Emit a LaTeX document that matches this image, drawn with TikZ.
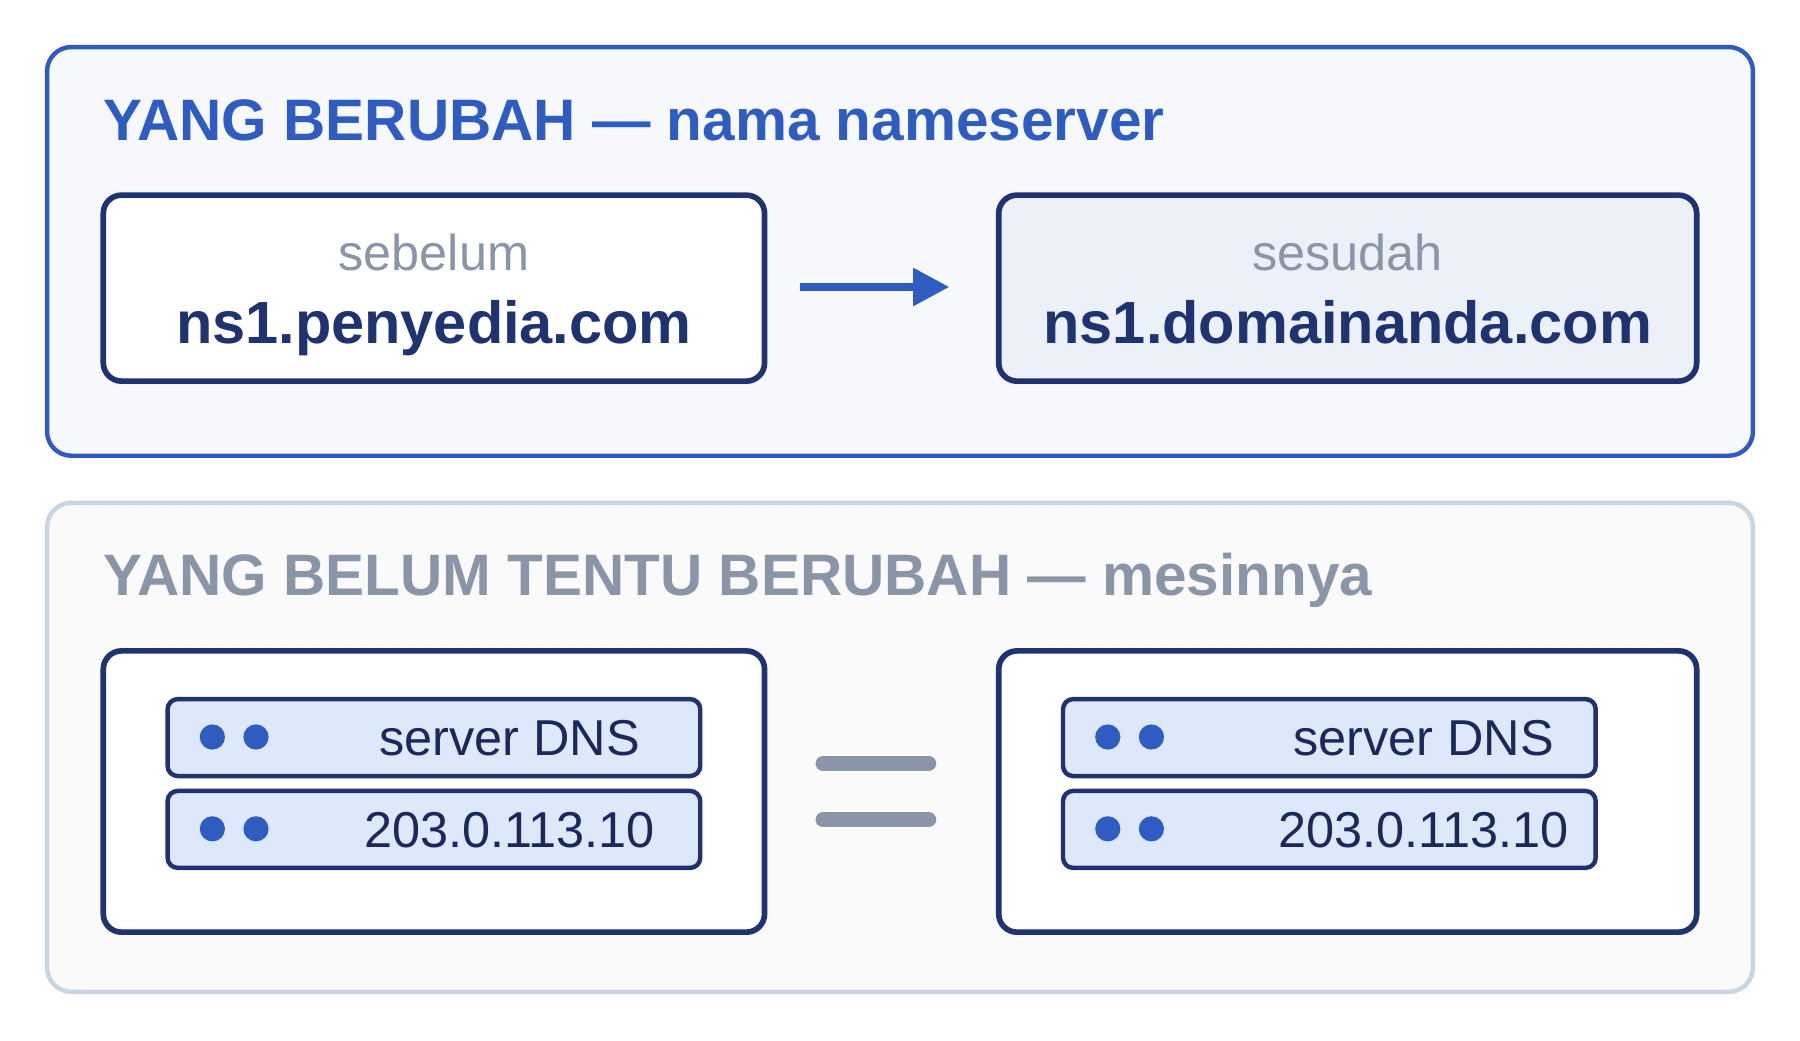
\documentclass[tikz,border=0pt]{standalone}
\usepackage{fontspec}
\setmainfont{Liberation Sans}
\usetikzlibrary{arrows.meta}
\definecolor{blu}{HTML}{2F5CC0}
\definecolor{navy}{HTML}{1E3370}
\definecolor{gry}{HTML}{8A96A8}
\definecolor{lgry}{HTML}{C9D5E3}
\definecolor{rowf}{HTML}{DDE8FB}
\begin{document}
\begin{tikzpicture}[x=0.02cm,y=-0.02cm,
 panel/.style={rounded corners=12pt,line width=2.2pt},
 card/.style={draw=navy,line width=2.8pt,rounded corners=9pt},
 row/.style={draw=navy,fill=rowf,line width=2.2pt,rounded corners=5pt},
 dot/.style={circle,fill=blu,inner sep=0pt,minimum size=12.5pt},
 ttl/.style={anchor=base west,font=\bfseries\fontsize{29}{34}\selectfont,inner sep=0},
 small/.style={anchor=base,text=gry,font=\fontsize{25}{30}\selectfont,inner sep=0},
 big/.style={anchor=base,text=navy,font=\bfseries\fontsize{29.5}{34}\selectfont,inner sep=0},
 rtxt/.style={anchor=base,text=navy!80!black,font=\fontsize{25}{30}\selectfont,inner sep=0}]
\useasboundingbox[fill=white] (0,0) rectangle (1568,906);
\draw[panel,draw=blu,fill=blu!4] (41,41) rectangle (1527,397);
\draw[panel,draw=lgry,fill=gray!4] (41,438) rectangle (1527,864);
\node[ttl,text=blu] (t1) at (90,122) {YANG BERUBAH — nama nameserver};
\node[ttl,text=gry] (t2) at (90,519) {YANG BELUM TENTU BERUBAH — mesinnya};
\draw[card,fill=white] (90,170) rectangle (666,332);
\draw[card,fill=blu!9] (870,170) rectangle (1478,332);
\node[small] (s1) at (378,236) {sebelum};
\node[big] (n1) at (378,299) {ns1.penyedia.com};
\node[small] (s2) at (1174,236) {sesudah};
\node[big] (n2) at (1174,299) {ns1.domainanda.com};
\coordinate (a1) at (697,250); \coordinate (a2) at (827,250);
\draw[blu,line width=4pt,-{Triangle[length=18pt,width=18pt]}] (a1) -- (a2);
\draw[card,fill=white] (90,567) rectangle (666,812);
\draw[card,fill=white] (870,567) rectangle (1478,812);
\foreach \x/\c/\k in {146/444/L,926/1240/R}{
  \draw[row] (\x,609) rectangle (\x+464,676);
  \draw[row] (\x,689) rectangle (\x+464,756);
  \node[dot] (d1\k) at (\x+39,642) {};
  \node[dot] (d2\k) at (\x+77,642) {};
  \node[dot] (d3\k) at (\x+39,722) {};
  \node[dot] (d4\k) at (\x+77,722) {};
  \node[rtxt] (r1\k) at (\c,658) {server DNS};
  \node[rtxt] (r2\k) at (\c,738) {203.0.113.10};
}
\coordinate (e1) at (717,665); \coordinate (e2) at (809,665);
\coordinate (e3) at (717,714); \coordinate (e4) at (809,714);
\draw[gry,line width=7.5pt,line cap=round] (e1) -- (e2);
\draw[gry,line width=7.5pt,line cap=round] (e3) -- (e4);
\end{tikzpicture}
\end{document}
